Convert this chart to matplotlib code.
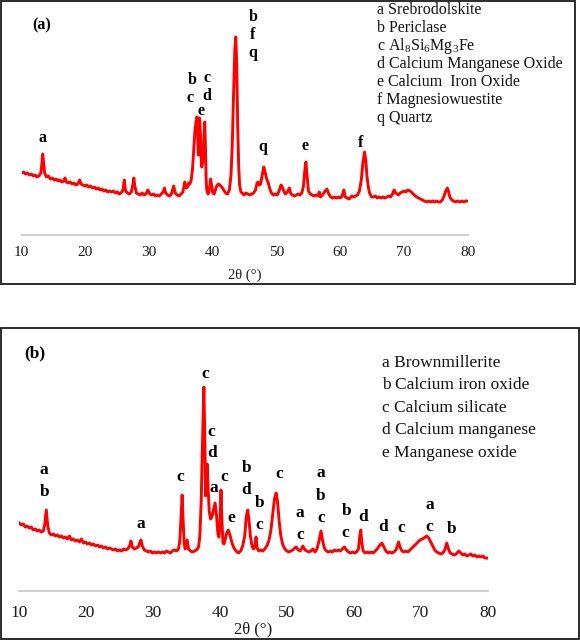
import matplotlib
matplotlib.use("Agg")
import matplotlib.pyplot as plt
from matplotlib.patches import Rectangle

plt.rcParams['font.family'] = ['Liberation Serif', 'DejaVu Serif']
plt.rcParams['mathtext.fontset'] = 'custom'
plt.rcParams['mathtext.rm'] = 'Liberation Serif'
plt.rcParams['mathtext.it'] = 'Liberation Serif'

# ---------------- data: panel (a) ----------------
two_theta_a = [
    10.0, 10.3, 10.6, 10.9, 11.2, 11.5, 11.8, 12.1, 12.4, 12.7, 13.0, 13.15, 13.3, 13.45, 13.6,
    13.9, 14.2, 14.5, 14.8, 15.1, 15.4, 15.7, 16.0, 16.3, 16.6, 16.8, 17.0, 17.3, 17.6, 17.9,
    18.2, 18.5, 18.8, 19.1, 19.3, 19.6, 19.9, 20.2, 20.5, 20.8, 21.1, 21.4, 21.7, 22.0, 22.3,
    22.6, 22.9, 23.2, 23.5, 23.8, 24.1, 24.4, 24.7, 25.0, 25.3, 25.6, 25.9, 26.1, 26.3, 26.6,
    26.9, 27.2, 27.45, 27.6, 27.75, 28.0, 28.3, 28.6, 28.9, 29.2, 29.5, 29.8, 30.1, 30.4, 30.7,
    31.0, 31.3, 31.6, 31.9, 32.2, 32.4, 32.6, 32.9, 33.2, 33.5, 33.85, 34.1, 34.4, 34.7, 35.0,
    35.3, 35.6, 35.8, 36.05, 36.2, 36.4, 36.6, 36.8, 37.0, 37.2, 37.35, 37.5, 37.62, 37.72, 37.82,
    37.92, 38.05, 38.15, 38.25, 38.4, 38.55, 38.73, 38.85, 38.95, 39.05, 39.25, 39.45, 39.65, 39.8, 40.0,
    40.2, 40.4, 40.6, 40.87, 41.1, 41.4, 41.7, 42.0, 42.3, 42.6, 42.85, 43.05, 43.25, 43.45, 43.6,
    43.75, 43.9, 44.05, 44.2, 44.4, 44.6, 44.9, 45.2, 45.5, 45.8, 46.1, 46.4, 46.7, 46.95, 47.1,
    47.3, 47.5, 47.75, 48.0, 48.2, 48.45, 48.7, 48.95, 49.2, 49.5, 49.8, 50.1, 50.4, 50.7, 50.95,
    51.2, 51.4, 51.7, 52.0, 52.25, 52.5, 52.8, 53.1, 53.4, 53.7, 53.95, 54.2, 54.4, 54.6, 54.8,
    55.0, 55.3, 55.6, 55.9, 56.2, 56.5, 56.7, 56.9, 57.2, 57.5, 57.9, 58.2, 58.5, 58.8, 59.1,
    59.4, 59.7, 60.0, 60.3, 60.55, 60.8, 61.1, 61.4, 61.8, 62.1, 62.4, 62.7, 63.0, 63.3, 63.55,
    63.8, 64.0, 64.2, 64.4, 64.6, 64.9, 65.2, 65.5, 65.8, 66.1, 66.4, 66.7, 67.0, 67.3, 67.6,
    67.9, 68.2, 68.45, 68.7, 68.95, 69.1, 69.4, 69.7, 70.0, 70.3, 70.6, 70.95, 71.3, 71.6, 72.0,
    72.3, 72.6, 72.9, 73.2, 73.6, 73.9, 74.2, 74.5, 74.8, 75.1, 75.4, 75.7, 76.0, 76.3, 76.55,
    76.8, 77.0, 77.2, 77.5, 77.8, 78.1, 78.4, 78.8, 79.1, 79.4, 79.7, 80.0,
]
intensity_a = [
    62, 63, 61, 62, 60, 61, 59, 60, 58, 59, 62, 70, 81, 72, 62,
    58, 59, 56, 57, 55, 56, 54, 55, 53, 54, 57, 53, 52, 53, 51,
    52, 50, 51, 55, 51, 50, 49, 50, 48, 49, 47, 48, 46, 47, 45,
    46, 44, 45, 43, 44, 43, 44, 42, 43, 41, 42, 45, 55, 44, 42,
    41, 43, 50, 57, 49, 42, 41, 40, 42, 40, 41, 45, 41, 40, 41,
    39, 40, 39, 41, 43, 47, 42, 40, 39, 41, 49, 42, 40, 39, 41,
    43, 53, 47, 48, 52, 51, 55, 65, 85, 105, 112, 118, 100, 80, 100,
    117, 100, 80, 68, 72, 90, 113, 85, 55, 45, 41, 45, 56, 50, 42,
    41, 45, 49, 51, 50, 48, 45, 42, 41, 45, 60, 90, 140, 185, 198,
    170, 110, 70, 50, 43, 42, 40, 42, 41, 40, 41, 42, 45, 52, 53,
    50, 51, 60, 68, 63, 56, 52, 46, 42, 40, 41, 40, 44, 50, 47,
    43, 41, 43, 47, 41, 40, 39, 40, 41, 40, 42, 48, 62, 73, 58,
    44, 41, 40, 39, 40, 39, 43, 38, 40, 43, 46, 41, 38, 37, 38,
    37, 38, 37, 39, 45, 38, 37, 36, 39, 38, 39, 40, 44, 55, 72,
    83, 75, 58, 48, 42, 38, 38, 39, 37, 38, 37, 38, 37, 38, 39,
    38, 41, 45, 42, 41, 40, 42, 43, 44, 43, 45, 44, 42, 40, 38,
    37, 36, 35, 34, 33, 34, 33, 34, 33, 34, 33, 33, 35, 39, 44,
    47, 43, 38, 35, 34, 33, 34, 33, 34, 33, 34, 34,
]

# ---------------- data: panel (b) ----------------
two_theta_b = [
    10.0, 10.3, 10.6, 10.9, 11.2, 11.5, 11.8, 12.1, 12.4, 12.7, 13.0, 13.3, 13.6, 13.8, 14.05,
    14.25, 14.5, 14.8, 15.1, 15.4, 15.7, 16.0, 16.3, 16.6, 16.9, 17.2, 17.5, 17.8, 18.1, 18.4,
    18.7, 19.0, 19.3, 19.6, 19.9, 20.2, 20.5, 20.8, 21.1, 21.4, 21.7, 22.0, 22.3, 22.6, 22.9,
    23.2, 23.5, 23.8, 24.1, 24.4, 24.7, 25.0, 25.3, 25.6, 25.9, 26.2, 26.5, 26.7, 26.9, 27.2,
    27.5, 27.8, 28.0, 28.2, 28.4, 28.7, 29.0, 29.3, 29.6, 29.9, 30.2, 30.5, 30.8, 31.1, 31.4,
    31.7, 32.0, 32.3, 32.6, 32.9, 33.2, 33.5, 33.8, 34.0, 34.2, 34.35, 34.5, 34.65, 34.8, 35.1,
    35.3, 35.6, 35.9, 36.2, 36.5, 36.8, 37.0, 37.2, 37.4, 37.6, 37.75, 37.85, 37.95, 38.1, 38.25,
    38.4, 38.6, 38.8, 39.0, 39.27, 39.5, 39.7, 39.85, 40.0, 40.16, 40.3, 40.45, 40.6, 40.8, 41.0,
    41.25, 41.5, 41.8, 42.1, 42.4, 42.75, 43.1, 43.4, 43.7, 43.95, 44.15, 44.35, 44.55, 44.8, 45.0,
    45.2, 45.4, 45.55, 45.8, 46.1, 46.4, 46.7, 47.0, 47.3, 47.6, 47.9, 48.15, 48.4, 48.6, 48.85,
    49.1, 49.4, 49.7, 50.0, 50.3, 50.6, 50.9, 51.2, 51.4, 51.7, 52.0, 52.4, 52.7, 53.0, 53.3,
    53.6, 53.9, 54.2, 54.5, 54.8, 55.1, 55.35, 55.6, 55.9, 56.2, 56.5, 56.8, 57.1, 57.4, 57.7,
    58.0, 58.3, 58.6, 58.9, 59.2, 59.5, 59.8, 60.1, 60.4, 60.7, 60.9, 61.05, 61.2, 61.4, 61.7,
    62.0, 62.3, 62.6, 62.9, 63.2, 63.5, 63.8, 64.2, 64.5, 64.8, 65.1, 65.4, 65.7, 66.0, 66.3,
    66.5, 66.7, 66.9, 67.2, 67.5, 67.8, 68.1, 68.4, 68.7, 69.0, 69.3, 69.6, 69.9, 70.2, 70.5,
    70.9, 71.2, 71.5, 71.8, 72.1, 72.4, 72.7, 73.0, 73.3, 73.6, 73.9, 74.15, 74.4, 74.7, 75.0,
    75.3, 75.7, 76.0, 76.3, 76.6, 76.9, 77.2, 77.5, 77.8, 78.1, 78.4, 78.7, 79.0, 79.3, 79.6,
    80.0,
]
intensity_b = [
    68, 66, 67, 64, 65, 63, 64, 61, 62, 60, 61, 59, 60, 66, 81,
    66, 58, 56, 57, 55, 56, 54, 55, 53, 54, 52, 55, 51, 52, 50,
    51, 49, 52, 48, 49, 47, 48, 46, 47, 45, 46, 44, 45, 43, 44,
    42, 43, 42, 41, 42, 40, 41, 40, 42, 41, 42, 45, 50, 44, 42,
    43, 44, 48, 51, 45, 41, 40, 39, 40, 38, 39, 38, 39, 38, 39,
    38, 40, 39, 38, 40, 41, 40, 42, 50, 75, 96, 70, 48, 42, 51,
    42, 40, 39, 40, 41, 44, 55, 90, 150, 204, 150, 95, 110, 127, 100,
    80, 72, 74, 80, 88, 75, 57, 54, 65, 101, 70, 48, 47, 52, 58,
    61, 56, 48, 43, 40, 38, 40, 45, 55, 75, 81, 70, 55, 45, 42,
    44, 54, 43, 40, 41, 40, 42, 45, 50, 60, 78, 92, 98, 90, 70,
    55, 46, 42, 40, 39, 40, 41, 43, 44, 41, 40, 45, 41, 40, 39,
    40, 42, 39, 42, 50, 60, 50, 43, 40, 39, 40, 39, 41, 40, 41,
    40, 42, 44, 41, 39, 38, 39, 38, 39, 42, 55, 61, 48, 40, 38,
    39, 38, 39, 38, 40, 42, 45, 48, 44, 40, 38, 39, 38, 39, 41,
    45, 49, 44, 40, 39, 40, 39, 41, 43, 45, 47, 49, 51, 52, 53,
    55, 53, 49, 45, 41, 39, 38, 37, 38, 41, 48, 42, 38, 37, 36,
    37, 40, 38, 36, 37, 35, 36, 37, 35, 36, 34, 35, 34, 35, 33,
    33,
]

x_ticks = [10, 20, 30, 40, 50, 60, 70, 80]

legend_a = ["a Srebrodolskite", "b Periclase", r"c Al$_8$Si$_6$Mg$_3$Fe",
            "d Calcium Manganese Oxide", "e Calcium  Iron Oxide",
            "f Magnesiowuestite", "q Quartz"]
legend_b = ["a Brownmillerite", "b Calcium iron oxide", "c Calcium silicate",
            "d Calcium manganese", "e Manganese oxide"]

# peak labels: (letter, 2theta, height)
peaks_a = [("a", 13.34, 97), ("b", 36.75, 155), ("c", 36.45, 137),
           ("c", 39.1, 157), ("d", 39.1, 139), ("e", 38.2, 124),
           ("b", 46.3, 218), ("f", 46.2, 200), ("q", 46.35, 182),
           ("q", 47.83, 88), ("e", 54.47, 89), ("f", 63.2, 92)]
peaks_b = [("a", 13.75, 121), ("b", 13.75, 99), ("a", 28.16, 67),
           ("c", 34.14, 114), ("c", 37.77, 217), ("c", 38.77, 159),
           ("d", 38.77, 138), ("a", 39.11, 103), ("c", 40.61, 114),
           ("e", 41.76, 73), ("b", 43.97, 123), ("d", 43.97, 101),
           ("b", 45.99, 88), ("c", 45.84, 66), ("c", 48.87, 117),
           ("a", 51.97, 78), ("c", 51.97, 56), ("a", 55.11, 118),
           ("b", 55.11, 95), ("c", 55.11, 73), ("b", 58.9, 80),
           ("c", 58.75, 58), ("d", 61.34, 74), ("d", 64.33, 64),
           ("c", 67.06, 63), ("a", 71.29, 86), ("c", 71.29, 64),
           ("b", 74.64, 62)]

W, H = 580, 640
fig = plt.figure(figsize=(W / 100, H / 100), dpi=100)


def fx(px):
    return px / W


def fy(py):
    return 1 - py / H


def make_axes(left, right, bottom, top):
    return fig.add_axes([fx(left), fy(bottom), fx(right - left), (bottom - top) / H])


# panel borders
fig.patches.append(Rectangle((fx(1), fy(284)), fx(574), (284 - 1) / H, fill=False,
                             edgecolor='#1a1a1a', lw=1.3, transform=fig.transFigure))
fig.patches.append(Rectangle((fx(1), fy(639)), fx(578), (639 - 328) / H, fill=False,
                             edgecolor='#1a1a1a', lw=1.3, transform=fig.transFigure))

panels = [
    dict(x=two_theta_a, y=intensity_a, box=(21.7, 467.7, 235, 5), peaks=peaks_a,
         legend=legend_a, leg_x=377, leg_y0=10, leg_dy=18.0, leg_fs=11.5,
         tick_fs=11, tick_pad=8, peak_fs=11.5, title="(a)", title_xy=(42, 25), title_fs=11.5,
         xlabel_xy=(245, 275), xlabel_fs=10.5),
    dict(x=two_theta_b, y=intensity_b, box=(19.2, 487.6, 591, 335), peaks=peaks_b,
         legend=legend_b, leg_x=382, leg_y0=363, leg_dy=22.4, leg_fs=12.5,
         tick_fs=12.5, tick_pad=10, peak_fs=12.5, title="(b)", title_xy=(35, 353), title_fs=12.5,
         xlabel_xy=(253, 629), xlabel_fs=12),
]

for p in panels:
    left, right, bottom, top = p["box"]
    ax = make_axes(left, right, bottom, top)
    ax.plot(p["x"], p["y"], color='#ff0000', lw=2.1, solid_joinstyle='round')
    ax.set_xlim(10, 80)
    ax.set_ylim(0, bottom - top)
    ax.patch.set_alpha(0)
    for s in ['top', 'right', 'left']:
        ax.spines[s].set_visible(False)
    ax.spines['bottom'].set_color('#d0d0d0')
    ax.spines['bottom'].set_linewidth(1.5)
    ax.set_yticks([])
    ax.set_xticks(x_ticks)
    ax.set_xticklabels([str(t) for t in x_ticks])
    ax.tick_params(axis='x', length=0, pad=p["tick_pad"], labelsize=p["tick_fs"], colors='#1a1a1a')
    for lab, xx, yy in p["peaks"]:
        ax.text(xx, yy, lab, ha='center', va='center', fontsize=p["peak_fs"],
                fontweight='bold', color='black', clip_on=False)
    for i, t in enumerate(p["legend"]):
        fig.text(fx(p["leg_x"]), fy(p["leg_y0"] + i * p["leg_dy"]), t, ha='left', va='center',
                 fontsize=p["leg_fs"], color='#111111')
    tx, ty = p["title_xy"]
    fig.text(fx(tx), fy(ty), p["title"], ha='center', va='center', fontsize=p["title_fs"],
             fontweight='bold')
    lx, ly = p["xlabel_xy"]
    fig.text(fx(lx), fy(ly), "2θ (°)", ha='center', va='center', fontsize=p["xlabel_fs"],
             color='#1a1a1a')

fig.savefig("out.png", dpi=100)
